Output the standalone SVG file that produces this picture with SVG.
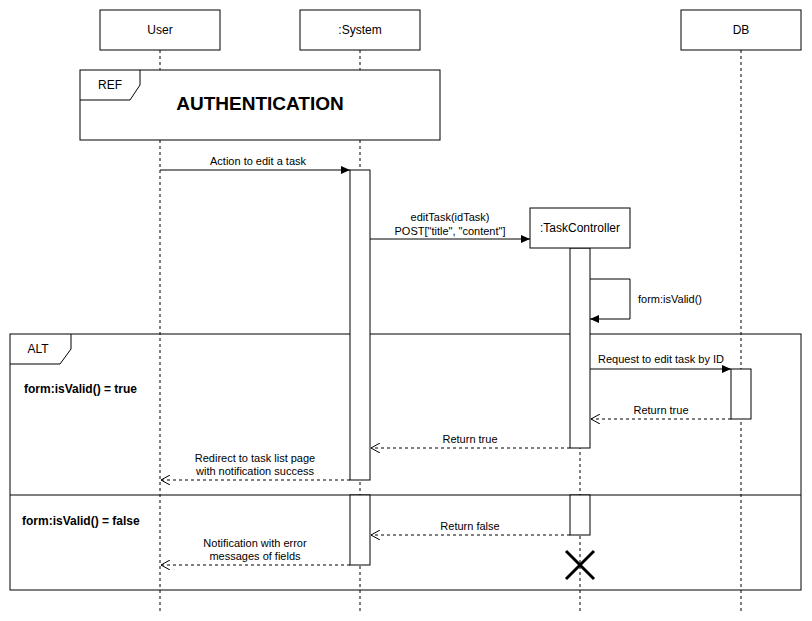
<svg xmlns="http://www.w3.org/2000/svg" width="812" height="621" viewBox="0 0 812 621">
<defs>
<marker id="block" markerWidth="10" markerHeight="8" refX="9" refY="4" orient="auto" markerUnits="userSpaceOnUse">
<path d="M0,0 L9,4 L0,8 Z" fill="#000"/>
</marker>
<marker id="open" markerWidth="12" markerHeight="10" refX="10" refY="5" orient="auto" markerUnits="userSpaceOnUse">
<path d="M1,0 L10,5 L1,10" fill="none" stroke="#000" stroke-width="1"/>
</marker>
</defs>
<style>
text{font-family:"Liberation Sans",Arial,sans-serif;fill:#000}
.box{fill:#fff;stroke:#000;stroke-width:1}
.life{stroke:#000;stroke-dasharray:3,3;fill:none}
.msg{stroke:#000;fill:none}
.ret{stroke:#000;fill:none;stroke-dasharray:3,3}
.lbl{font-size:11px;text-anchor:middle}
.name{font-size:12px;text-anchor:middle}
.frame{fill:none;stroke:#000}
.cond{font-size:12px;font-weight:bold}
</style>
<rect width="812" height="621" fill="#fff"/>
<g id="lifelines">
<line class="life" x1="160" y1="50" x2="160" y2="612"/>
<line class="life" x1="360" y1="50" x2="360" y2="612"/>
<line class="life" x1="580" y1="248" x2="580" y2="612"/>
<line class="life" x1="741" y1="50" x2="741" y2="612"/>
</g>
<g id="user"><rect class="box" x="100" y="10" width="120" height="40"/><text class="name" x="160" y="34">User</text></g>
<g id="system"><rect class="box" x="300" y="10" width="120" height="40"/><text class="name" x="360" y="34">:System</text></g>
<g id="db"><rect class="box" x="681" y="10" width="120" height="40"/><text class="name" x="741" y="34">DB</text></g>
<g id="ref">
<rect class="box" x="80" y="70" width="360" height="70"/>
<path class="frame" d="M80,100 L130,100 L140,85 L140,70"/>
<text x="110" y="89" font-size="12" text-anchor="middle">REF</text>
<text x="260" y="110" font-size="19" font-weight="bold" text-anchor="middle">AUTHENTICATION</text>
</g>
<g id="alt">
<rect class="frame" x="10" y="334" width="791" height="256"/>
<path class="frame" d="M10,364 L60,364 L71,349 L71,334"/>
<text x="38" y="353" font-size="12" text-anchor="middle">ALT</text>
<line class="frame" x1="10" y1="495" x2="801" y2="495"/>
<text class="cond" x="24" y="393">form:isValid() = true</text>
<text class="cond" x="22" y="525">form:isValid() = false</text>
</g>
<g id="activations">
<rect class="box" x="350" y="170" width="20" height="310"/>
<rect class="box" x="570" y="248" width="20" height="200"/>
<rect class="box" x="731" y="369" width="20" height="50"/>
<rect class="box" x="350" y="495" width="20" height="70"/>
<rect class="box" x="570" y="495" width="20" height="40"/>
</g>
<g id="taskcontroller"><rect class="box" x="530" y="208" width="100" height="40"/><text class="name" x="580" y="232">:TaskController</text></g>
<g id="destroy">
<path d="M566,551 L594,579 M594,551 L566,579" stroke="#000" stroke-width="3" fill="none"/>
</g>
<g id="connectors">
<line class="msg" x1="160" y1="170" x2="350" y2="170" marker-end="url(#block)"/>
<text class="lbl" x="258" y="165">Action to edit a task</text>
<line class="msg" x1="370" y1="239" x2="530" y2="239" marker-end="url(#block)"/>
<text class="lbl" x="450" y="221">editTask(idTask)</text>
<text class="lbl" x="450" y="235">POST["title", "content"]</text>
<path class="msg" d="M590,279 L630,279 L630,319 L590,319" marker-end="url(#block)"/>
<text x="638" y="303" font-size="11">form:isValid()</text>
<line class="msg" x1="590" y1="369" x2="731" y2="369" marker-end="url(#block)"/>
<text class="lbl" x="661" y="363">Request to edit task by ID</text>
<line class="ret" x1="731" y1="419" x2="591" y2="419" marker-end="url(#open)"/>
<text class="lbl" x="661" y="414">Return true</text>
<line class="ret" x1="570" y1="448" x2="371" y2="448" marker-end="url(#open)"/>
<text class="lbl" x="470" y="443">Return true</text>
<line class="ret" x1="350" y1="480" x2="161" y2="480" marker-end="url(#open)"/>
<text class="lbl" x="255" y="462">Redirect to task list page</text>
<text class="lbl" x="255" y="475">with notification success</text>
<line class="ret" x1="570" y1="535" x2="371" y2="535" marker-end="url(#open)"/>
<text class="lbl" x="470" y="530">Return false</text>
<line class="ret" x1="350" y1="565" x2="161" y2="565" marker-end="url(#open)"/>
<text class="lbl" x="255" y="547">Notification with error</text>
<text class="lbl" x="255" y="560">messages of fields</text>
</g>
</svg>
